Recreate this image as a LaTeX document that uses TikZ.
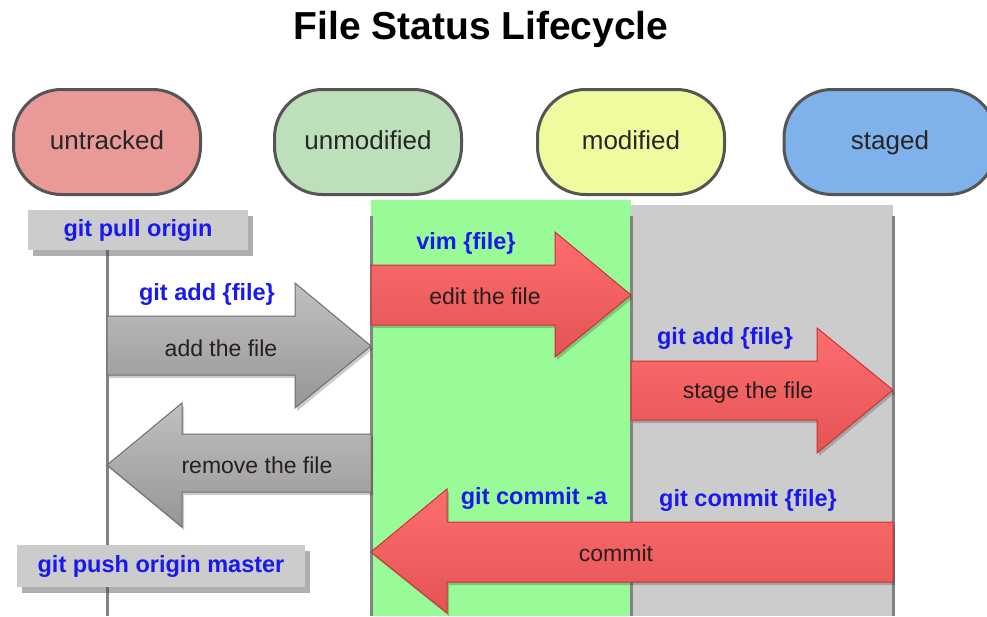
\documentclass[tikz,border=0pt]{standalone}
\usepackage{fontspec}
\setmainfont{Liberation Sans}
\usetikzlibrary{shadows}
\definecolor{cmdblue}{RGB}{25,25,235}
\definecolor{untrackedfill}{RGB}{233,154,152}
\definecolor{unmodfill}{RGB}{189,224,186}
\definecolor{modfill}{RGB}{240,251,160}
\definecolor{stagedfill}{RGB}{127,177,234}
\definecolor{pillborder}{RGB}{85,85,85}
\definecolor{greencol}{RGB}{152,251,152}
\definecolor{graycol}{RGB}{204,204,204}
\definecolor{lanegray}{RGB}{130,130,130}
\definecolor{redtop}{RGB}{255,110,110}
\definecolor{redbot}{RGB}{228,84,84}
\definecolor{redline}{RGB}{200,50,50}
\definecolor{graytop}{RGB}{192,192,192}
\definecolor{graybot}{RGB}{150,150,150}
\definecolor{grayline}{RGB}{110,110,110}
\definecolor{arrowtext}{RGB}{40,30,30}
\tikzset{
  pill/.style={draw=pillborder, line width=3pt, rounded corners=48pt,
    minimum width=187pt, minimum height=105pt, text height=19pt, text depth=5pt,
    font=\fontsize{26}{30}\selectfont, text=black!85},
  cmdbox/.style={fill=graycol, inner sep=0pt,
    drop shadow={shadow xshift=5pt, shadow yshift=-6pt, opacity=0.45, fill=black!70},
    font=\bfseries\fontsize{23.5}{28}\selectfont, text=cmdblue},
  cmdlabel/.style={font=\bfseries\fontsize{23.5}{28}\selectfont, text=cmdblue},
  arrowlabel/.style={font=\fontsize{23}{27}\selectfont, text=arrowtext},
  redarrow/.style={draw=redline, line width=1pt, top color=redtop, bottom color=redbot,
    drop shadow={shadow xshift=2pt, shadow yshift=-3pt, opacity=0.2, fill=black}},
  grayarrow/.style={draw=grayline, line width=1pt, top color=graytop, bottom color=graybot,
    drop shadow={shadow xshift=2pt, shadow yshift=-3pt, opacity=0.2, fill=black}},
  laneline/.style={draw=lanegray, line width=3pt},
}
\begin{document}
\begin{tikzpicture}[x=1pt,y=-1pt]
\useasboundingbox (0,0) rectangle (987,616);
\fill[white] (0,0) rectangle (987,616);

% title
\node[font=\bfseries\fontsize{39}{44}\selectfont] (title) at (481,29) {File Status Lifecycle};

% state pills
\node[pill, fill=untrackedfill] (untracked) at (107,142) {untracked};
\node[pill, fill=unmodfill] (unmodified) at (368,142) {unmodified};
\node[pill, fill=modfill] (modified) at (631,142) {modified};
\node[pill, fill=stagedfill, minimum width=212pt] (staged) at (890,142) {staged};

% columns
\fill[greencol] (371,200) rectangle (631,616);
\fill[graycol] (631,205) rectangle (893,616);

\coordinate (l0top) at (107,250);
\coordinate (l0bot) at (107,616);
\coordinate (l1top) at (371,216);
\coordinate (l1bot) at (371,616);
\coordinate (l2top) at (631,216);
\coordinate (l2bot) at (631,616);
\coordinate (l3top) at (893,216);
\coordinate (l3bot) at (893,616);
\draw[laneline] (l0top) -- (l0bot);
\draw[laneline] (l1top) -- (l1bot);
\draw[laneline] (l2top) -- (l2bot);
\draw[laneline] (l3top) -- (l3bot);

% command boxes
\node[cmdbox, minimum width=220pt, minimum height=40pt] (pull) at (138,230) {git pull origin};
\node[cmdbox, minimum width=288pt, minimum height=42pt] (push) at (161,566) {git push origin master};

% add the file (gray, right)
\draw[grayarrow] (107,316) -- (295,316) -- (295,283) -- (371,346) -- (295,408) -- (295,375) -- (107,375) -- cycle;
\node[arrowlabel] (addtxt) at (221,348) {add the file};
\node[cmdlabel] (addcmd) at (207,294) {git add \{file\}};

% remove the file (gray, left)
\draw[grayarrow] (371,434) -- (182,434) -- (182,403) -- (107,465) -- (182,527) -- (182,492) -- (371,492) -- cycle;
\node[arrowlabel] (rmtxt) at (257,465) {remove the file};

% edit the file (red, right)
\draw[redarrow] (371,265) -- (555,265) -- (555,232) -- (631,295) -- (555,357) -- (555,325) -- (371,325) -- cycle;
\node[arrowlabel] (edittxt) at (485,296) {edit the file};
\node[cmdlabel] (vimcmd) at (466,243) {vim \{file\}};

% stage the file (red, right)
\draw[redarrow] (631,361) -- (817,361) -- (817,328) -- (893,390) -- (817,453) -- (817,420) -- (631,420) -- cycle;
\node[arrowlabel] (stagetxt) at (748,393) {stage the file};
\node[cmdlabel] (addcmd2) at (725,338) {git add \{file\}};

% commit (red, left)
\draw[redarrow] (893,522) -- (447,522) -- (447,489) -- (371,552) -- (447,613) -- (447,582) -- (893,582) -- cycle;
\node[arrowlabel] (committxt) at (616,553) {commit};
\node[cmdlabel] (commita) at (534,498) {git commit -a};
\node[cmdlabel] (commitf) at (748,500) {git commit \{file\}};
\end{tikzpicture}
\end{document}
